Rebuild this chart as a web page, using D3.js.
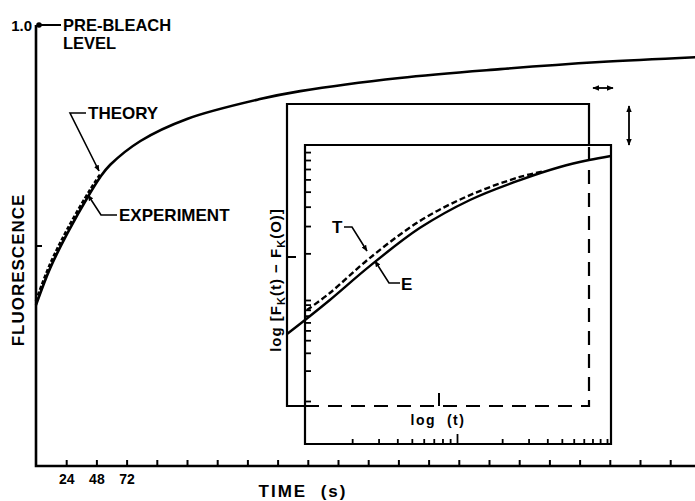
<!DOCTYPE html>
<html>
<head>
<meta charset="utf-8">
<script src="https://cdn.jsdelivr.net/npm/d3@7"></script>
<style>
body { margin: 0; background: #fff; }
svg text { font-family: "Liberation Sans", Arial, sans-serif; font-weight: bold; fill: #000; }
</style>
</head>
<body>
<svg id="chart" width="695" height="501"></svg>
<script>
// main plot: recovery after bleach (time in s, fluorescence / pre-bleach)
var theoryT = [0, 11, 25, 43, 51, 59, 83, 120, 178, 210, 289, 369, 448, 524];
var theoryF = [0.365, 0.447, 0.528, 0.619, 0.655, 0.683, 0.737, 0.787, 0.832, 0.850, 0.880, 0.900, 0.916, 0.927];
var exptT = [0, 11, 25, 43, 51];
var exptF = [0.374, 0.456, 0.537, 0.626, 0.661];
var timeTicks = [24, 48, 72, 96, 120, 144, 168, 192, 216, 240, 264, 288, 312, 336, 360, 384, 408, 432, 456, 480, 504];
var timeLabels = [24, 48, 72];

// inset: log [Fk(t) - Fk(0)] against log(t)
var insetT = [0.736, 0.97, 1.42, 2.63, 5.67, 12.2, 26.3, 48.6, 75.9, 106];
var insetTheory = [4.61, 6.34, 10.0, 16.6, 29.2, 44.2, 59.4, 72.1, 80.0, 84.9];
var insetExpT = [1.0, 1.42, 2.63, 5.67, 12.2, 26.3, 38.6];
var insetExp = [7.96, 11.1, 18.7, 32.4, 47.5, 62.2, 67.9];
var logTicks = [2, 3, 4, 5, 6, 7, 8, 9, 10, 20, 30, 40, 50, 60, 70, 80, 90, 100];
var logTicksY = [1, 2, 3, 4, 5, 6, 7, 8, 9, 10, 20, 30, 40, 50, 60, 70, 80, 90];

var svg = d3.select("#chart");

var x = d3.scaleLinear().domain([0, 525]).range([36, 36 + 525 * 30.2 / 24]);
var y = d3.scaleLinear().domain([0, 1]).range([466, 25]);

// inset scales (log), inner box 305..611 x 145..444
var xi = d3.scaleLog().domain([1, 100]).range([307, 607]);
var yi = d3.scaleLog().domain([1, 10, 100]).range([401, 300, 145]);

var defs = svg.append("defs");
defs.append("marker")
    .attr("id", "arr")
    .attr("viewBox", "0 0 10 10")
    .attr("refX", 9).attr("refY", 5)
    .attr("markerWidth", 4).attr("markerHeight", 4)
    .attr("markerUnits", "strokeWidth")
    .attr("orient", "auto-start-reverse")
    .append("path").attr("d", "M0,1 L10,5 L0,9 Z").attr("fill", "#000");

// main x axis
var xAxis = d3.axisBottom(x)
    .tickValues(timeTicks)
    .tickSize(-6)
    .tickPadding(8)
    .tickFormat(function(d) { return timeLabels.indexOf(d) >= 0 ? d : ""; });

var gx = svg.append("g")
    .attr("transform", "translate(0,466)")
    .call(xAxis);
gx.select(".domain").remove();
gx.selectAll("line").attr("stroke", "#000").attr("stroke-width", 2);
gx.selectAll("text").style("font-size", "14px").attr("fill", "#000");

// main y axis
var yAxis = d3.axisLeft(y)
    .tickValues([0.5])
    .tickSize(-6)
    .tickFormat("");
var gy = svg.append("g")
    .attr("transform", "translate(36,0)")
    .call(yAxis);
gy.select(".domain").remove();
gy.selectAll("line").attr("stroke", "#000").attr("stroke-width", 2);

svg.append("path")
    .attr("d", "M36," + y(1) + " V466 H695")
    .attr("fill", "none")
    .attr("stroke", "#000")
    .attr("stroke-width", 2.6);

svg.append("text").attr("x", 32).attr("y", y(1) + 5.5)
    .attr("text-anchor", "end").style("font-size", "15px").text("1.0");
svg.append("circle").attr("cx", 39).attr("cy", y(1)).attr("r", 2.8).attr("fill", "#000");
svg.append("line").attr("x1", 39).attr("x2", 61).attr("y1", y(1)).attr("y2", y(1))
    .attr("stroke", "#000").attr("stroke-width", 2);
svg.append("text").attr("x", 63).attr("y", y(1) + 6)
    .style("font-size", "16.5px").text("PRE-BLEACH");
svg.append("text").attr("x", 63).attr("y", y(1) + 24)
    .style("font-size", "16.5px").text("LEVEL");

svg.append("text")
    .attr("transform", "translate(24,270) rotate(-90)")
    .attr("text-anchor", "middle")
    .style("font-size", "17px")
    .style("letter-spacing", "1px")
    .text("FLUORESCENCE");

svg.append("text")
    .attr("x", 303).attr("y", 497)
    .attr("text-anchor", "middle")
    .style("font-size", "17px")
    .style("letter-spacing", "2px")
    .attr("xml:space", "preserve")
    .text("TIME  (s)");

// main curves
var line = d3.line()
    .x(function(d) { return x(d[0]); })
    .y(function(d) { return y(d[1]); })
    .curve(d3.curveCatmullRom.alpha(0.5));

svg.append("path")
    .datum(exptT.map(function(t, i) { return [t, exptF[i]]; }))
    .attr("d", line)
    .attr("fill", "none")
    .attr("stroke", "#000")
    .attr("stroke-width", 2.8)
    .attr("stroke-dasharray", "4,2");

svg.append("path")
    .datum(theoryT.map(function(t, i) { return [t, theoryF[i]]; }))
    .attr("d", line)
    .attr("fill", "none")
    .attr("stroke", "#000")
    .attr("stroke-width", 2.6);

// leader lines for main labels
svg.append("path")
    .attr("d", "M86,113 H70 L99,171")
    .attr("fill", "none").attr("stroke", "#000").attr("stroke-width", 1.6)
    .attr("marker-end", "url(#arr)");
svg.append("text").attr("x", 88).attr("y", 119).style("font-size", "17px").text("THEORY");

svg.append("path")
    .attr("d", "M117,215 H101 L88,195")
    .attr("fill", "none").attr("stroke", "#000").attr("stroke-width", 1.6)
    .attr("marker-end", "url(#arr)");
svg.append("text").attr("x", 119).attr("y", 221).style("font-size", "17px").text("EXPERIMENT");

// inset: outer (back) box
var outer = svg.append("g");
outer.append("rect").attr("x", 287).attr("y", 104).attr("width", 302).attr("height", 302)
    .attr("fill", "#fff").attr("stroke", "none");
outer.append("path")
    .attr("d", "M305,406 H287 V104 H589 V145")
    .attr("fill", "none").attr("stroke", "#000").attr("stroke-width", 2.2);
outer.append("line").attr("x1", 287).attr("x2", 296).attr("y1", 257).attr("y2", 257)
    .attr("stroke", "#000").attr("stroke-width", 2);

// inner box
var inner = svg.append("g");
inner.append("path")
    .attr("d", "M305,145 H611 V444 H305 Z")
    .attr("fill", "none").attr("stroke", "#000").attr("stroke-width", 2.2);

// dashed remainder of the back box
inner.append("path")
    .attr("d", "M305,406 H589 V145")
    .attr("fill", "none").attr("stroke", "#000").attr("stroke-width", 2.2)
    .attr("stroke-dasharray", "14,9");
inner.append("line").attr("x1", 439).attr("x2", 439).attr("y1", 406).attr("y2", 393)
    .attr("stroke", "#000").attr("stroke-width", 2);

// inset log axes
var xiAxis = d3.axisBottom(xi)
    .tickValues(logTicks)
    .tickSize(-5)
    .tickFormat("");
var gxi = inner.append("g").attr("transform", "translate(0,444)").call(xiAxis);
gxi.select(".domain").remove();
gxi.selectAll("line").attr("stroke", "#000").attr("stroke-width", 1.8)
    .attr("y2", function(d) { return d === 10 ? -10 : -5; });

var yiAxis = d3.axisLeft(yi)
    .tickValues(logTicksY)
    .tickSize(-6)
    .tickFormat("");
var gyi = inner.append("g").attr("transform", "translate(305,0)").call(yiAxis);
gyi.select(".domain").remove();
gyi.selectAll("line").attr("stroke", "#000").attr("stroke-width", 1.8);

inner.append("text")
    .attr("x", 438).attr("y", 425)
    .attr("text-anchor", "middle")
    .style("font-size", "14px")
    .style("letter-spacing", "1.5px")
    .attr("xml:space", "preserve")
    .text("log  (t)");

var ylab = svg.append("text")
    .attr("transform", "translate(281,280) rotate(-90)")
    .attr("text-anchor", "middle")
    .style("font-size", "15px")
    .style("letter-spacing", "1px")
    .attr("xml:space", "preserve");
ylab.append("tspan").text("log [F");
ylab.append("tspan").attr("dy", 4).style("font-size", "11px").text("K");
ylab.append("tspan").attr("dy", -4).text("(t) \u2212 F");
ylab.append("tspan").attr("dy", 4).style("font-size", "11px").text("K");
ylab.append("tspan").attr("dy", -4).text("(O)]");

// inset curves
var iline = d3.line()
    .x(function(d) { return xi(d[0]); })
    .y(function(d) { return yi(d[1]); })
    .curve(d3.curveCatmullRom.alpha(0.5));

svg.append("path")
    .datum(insetExpT.map(function(t, i) { return [t, insetExp[i]]; }))
    .attr("d", iline)
    .attr("fill", "none")
    .attr("stroke", "#000")
    .attr("stroke-width", 2.4)
    .attr("stroke-dasharray", "6,3");

svg.append("path")
    .datum(insetT.map(function(t, i) { return [t, insetTheory[i]]; }))
    .attr("d", iline)
    .attr("fill", "none")
    .attr("stroke", "#000")
    .attr("stroke-width", 2.4);

svg.append("text").attr("x", 332).attr("y", 233).style("font-size", "17px").text("T");
svg.append("path")
    .attr("d", "M344,227 H352 L367,251")
    .attr("fill", "none").attr("stroke", "#000").attr("stroke-width", 1.6)
    .attr("marker-end", "url(#arr)");
svg.append("text").attr("x", 401).attr("y", 290).style("font-size", "17px").text("E");
svg.append("path")
    .attr("d", "M400,283 H389 L375,261")
    .attr("fill", "none").attr("stroke", "#000").attr("stroke-width", 1.6)
    .attr("marker-end", "url(#arr)");

// shift arrows at top right
svg.append("line").attr("x1", 593).attr("x2", 613).attr("y1", 88).attr("y2", 88)
    .attr("stroke", "#000").attr("stroke-width", 1.8)
    .attr("marker-start", "url(#arr)").attr("marker-end", "url(#arr)");
svg.append("line").attr("x1", 629).attr("x2", 629).attr("y1", 106).attr("y2", 145)
    .attr("stroke", "#000").attr("stroke-width", 1.8)
    .attr("marker-start", "url(#arr)").attr("marker-end", "url(#arr)");
</script>
</body>
</html>
